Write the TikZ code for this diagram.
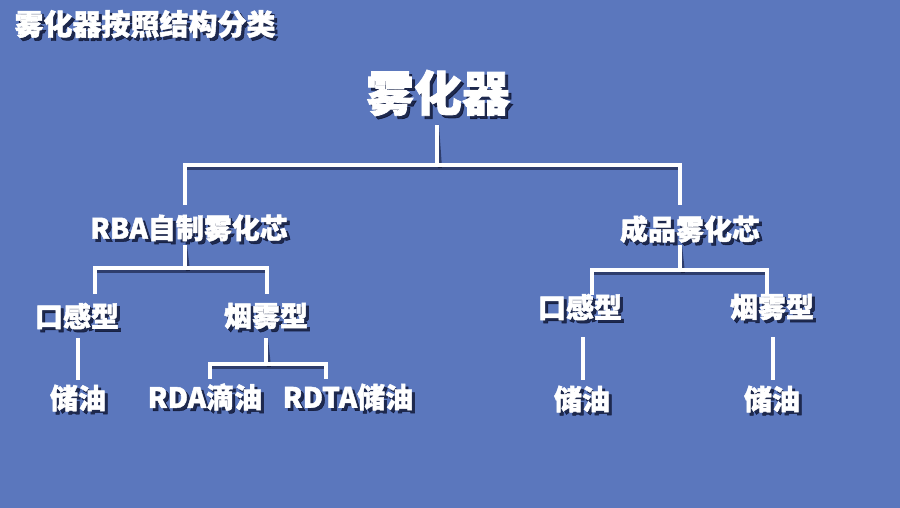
\documentclass[tikz,border=0pt]{standalone}
\usepackage{fontspec}
\newfontfamily\cjk{Noto Sans CJK SC}[BoldFeatures={FakeBold=1.6}]
\definecolor{bgblue}{HTML}{5B77BD}
\definecolor{shadowc}{HTML}{0A0F2A}
\tikzset{
  txt/.style={text=white, inner sep=0pt},
  shd/.style={text=shadowc, opacity=0.75, inner sep=0pt},
  conn/.style={draw=white, line width=4pt},
  connshd/.style={draw=shadowc, opacity=0.55, line width=4pt},
  big/.style={font=\cjk\bfseries\fontsize{48}{48}\selectfont},
  ttl/.style={font=\cjk\bfseries\fontsize{29}{29}\selectfont},
  mid/.style={font=\cjk\bfseries\fontsize{28}{28}\selectfont},
}
\newcommand\lbl[4]{%
  \node[shd,#4] (#1s) at ([shift={(3,3)}]#2) {#3};
  \node[txt,#4] (#1) at (#2) {#3};}
\begin{document}
\begin{tikzpicture}[x=1pt,y=-1pt]
\fill[bgblue] (0,0) rectangle (900,508);
\useasboundingbox (0,0) rectangle (900,508);
% labels
\lbl{title}{145,24}{雾化器按照结构分类}{ttl}
\lbl{root}{438,93}{雾化器}{big}
\lbl{rba}{189,228}{RBA自制雾化芯}{mid}
\lbl{cp}{690,229}{成品雾化芯}{mid}
\lbl{kga}{77,316}{口感型}{mid}
\lbl{ywa}{266,316}{烟雾型}{mid}
\lbl{kgb}{580,307}{口感型}{mid}
\lbl{ywb}{772,307}{烟雾型}{mid}
\lbl{cya}{78,398}{储油}{mid}
\lbl{rda}{205,397}{RDA滴油}{mid}
\lbl{rdta}{348,397}{RDTA储油}{mid}
\lbl{cyb}{582,399}{储油}{mid}
\lbl{cyc}{772,399}{储油}{mid}
% connector end points
\coordinate (rootb) at (437,125);
\coordinate (rbat) at (185,205);
\coordinate (cpt) at (680,205);
\coordinate (rbab) at (185,245);
\coordinate (kgat) at (95,294);
\coordinate (ywat) at (267,294);
\coordinate (cpb) at (680,245);
\coordinate (kgbt) at (592,295);
\coordinate (ywbt) at (767,295);
\coordinate (ywab) at (266,338);
\coordinate (rdat) at (210,379);
\coordinate (rdtat) at (326,379);
\coordinate (kgab) at (78,338);
\coordinate (cyat) at (78,380);
\coordinate (kgbb) at (583,337);
\coordinate (cybt) at (583,380);
\coordinate (ywbb) at (773,337);
\coordinate (cyct) at (773,380);
\foreach \sty/\dx in {connshd/3, conn/0}{
  \begin{scope}[shift={(\dx,\dx)}]
    \draw[\sty] (rootb) -- (437,165);
    \draw[\sty] (rbat) |- (cpt |- 0,165) -- (cpt);
    \draw[\sty] (rbab) -- (185,268);
    \draw[\sty] (kgat) |- (ywat |- 0,268) -- (ywat);
    \draw[\sty] (cpb) -- (680,270);
    \draw[\sty] (kgbt) |- (ywbt |- 0,270) -- (ywbt);
    \draw[\sty] (ywab) -- (266,364);
    \draw[\sty] (rdat) |- (rdtat |- 0,364) -- (rdtat);
    \draw[\sty] (kgab) -- (cyat);
    \draw[\sty] (kgbb) -- (cybt);
    \draw[\sty] (ywbb) -- (cyct);
  \end{scope}
}
\end{tikzpicture}
\end{document}
